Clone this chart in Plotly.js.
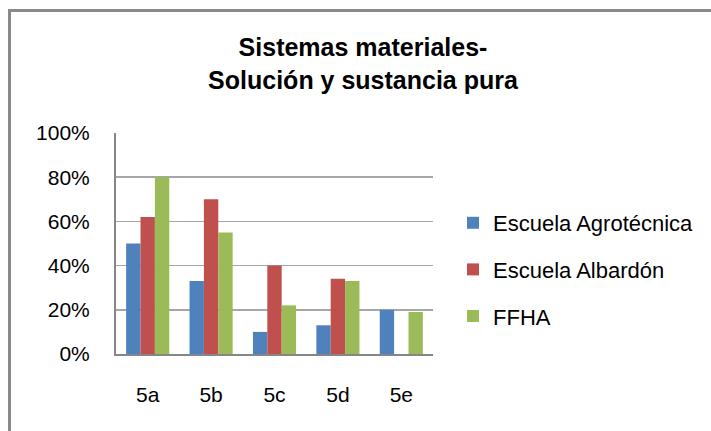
<!DOCTYPE html>
<html>
<head>
<meta charset="utf-8">
<script src="https://cdn.plot.ly/plotly-3.0.1.min.js"></script>
<style>
html,body{margin:0;padding:0;background:#fff;overflow:hidden;}
#wrap{position:relative;width:711px;height:431px;overflow:hidden;}
#chart{width:711px;height:431px;}
#frame{position:absolute;left:8px;top:9px;width:760px;height:480px;border:3px solid #8a8a8a;pointer-events:none;z-index:10;}
</style>
</head>
<body>
<div id="wrap">
<div id="chart"></div>
<div id="frame"></div>
</div>
<script>
var categories = ['5a', '5b', '5c', '5d', '5e'];
var seriesNames = ['Escuela Agrotécnica', 'Escuela Albardón', 'FFHA'];
var agrotecnica = [0.50, 0.33, 0.10, 0.13, 0.20];
var albardon = [0.62, 0.70, 0.40, 0.34, 0];
var ffha = [0.80, 0.55, 0.22, 0.33, 0.19];
var yTickVals = [0, 0.2, 0.4, 0.6, 0.8, 1.0];
var yTickText = ['0%', '20%', '40%', '60%', '80%', '100%'];
var colors = ['#4F81BD', '#C0504D', '#9BBB59'];

var values = [agrotecnica, albardon, ffha];
var traces = values.map(function (v, i) {
  return {
    type: 'bar',
    x: categories,
    y: v,
    name: seriesNames[i],
    legendgroup: 'g' + i,
    marker: {color: colors[i], line: {width: 0}},
    hoverinfo: 'x+y+name'
  };
});

var L = 116, R = 433, T = 133, B = 354, W = 711, H = 431;

var layout = {
  width: W, height: H,
  margin: {l: L, r: W - R, t: T, b: H - B, pad: 0},
  paper_bgcolor: '#ffffff',
  plot_bgcolor: '#ffffff',
  barmode: 'group',
  bargap: 0.32,
  bargroupgap: 0,
  font: {family: 'Liberation Sans, Arial, sans-serif', size: 21, color: '#000000'},
  title: {
    text: 'Sistemas materiales-<br>Solución y sustancia pura',
    font: {family: 'Liberation Sans, Arial, sans-serif', size: 25, color: '#000000', weight: 'bold'},
    xref: 'container', x: 363 / W, xanchor: 'center',
    yref: 'container', y: 1 - 56 / H, yanchor: 'top'
  },
  xaxis: {
    type: 'category',
    showgrid: false,
    showline: true, linecolor: '#868686', linewidth: 2,
    ticks: '', ticklabelstandoff: 21,
    tickfont: {size: 21, color: '#000000'},
    zeroline: false,
    fixedrange: true
  },
  yaxis: {
    range: [0, 1],
    tickvals: yTickVals, ticktext: yTickText,
    showgrid: true, gridcolor: '#a6a6a6', gridwidth: 1.5,
    showline: true, linecolor: '#868686', linewidth: 2,
    ticks: '', ticklabelstandoff: 20,
    tickfont: {size: 21, color: '#000000'},
    zeroline: false,
    fixedrange: true
  },
  showlegend: true,
  legend: {
    xref: 'container', yref: 'container',
    x: 453 / W, xanchor: 'left',
    y: 1 - 202 / H, yanchor: 'top',
    traceorder: 'grouped', tracegroupgap: 15,
    font: {size: 22, color: '#000000'},
    bgcolor: 'rgba(0,0,0,0)', borderwidth: 0
  }
};

Plotly.newPlot('chart', traces, layout, {displayModeBar: false, staticPlot: true});
</script>
</body>
</html>
